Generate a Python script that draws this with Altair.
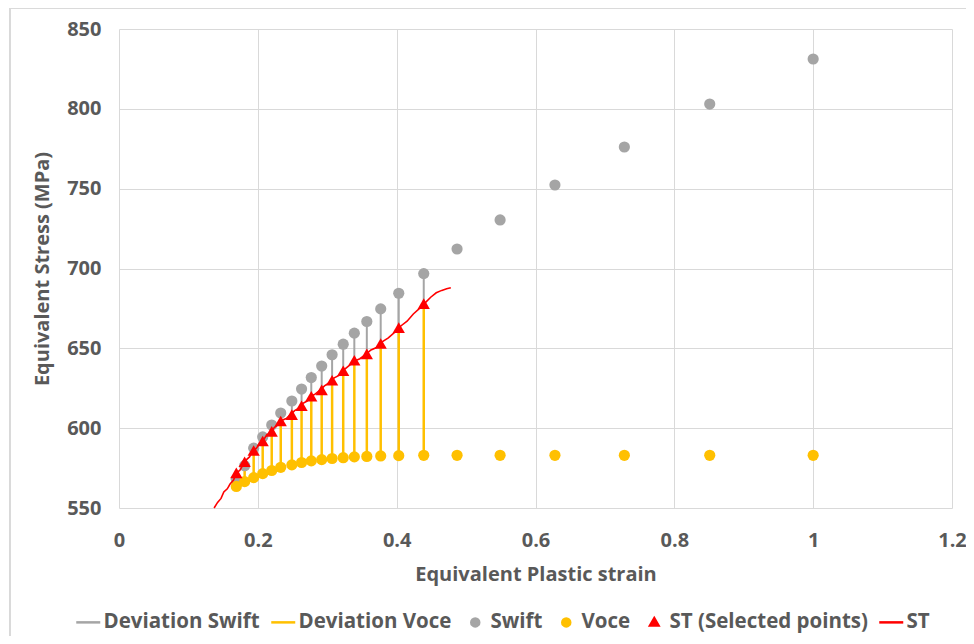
import altair as alt
import pandas as pd

# ---------------- data ----------------
strain = [0.169, 0.181, 0.194, 0.207, 0.220, 0.233, 0.249, 0.263, 0.277, 0.292,
          0.307, 0.323, 0.339, 0.357, 0.377, 0.403, 0.439, 0.487, 0.549, 0.628,
          0.728, 0.851, 1.0]
swift = [568.0, 576.5, 587.5, 594.5, 602.0, 609.5, 617.0, 624.5, 631.7, 638.9,
         646.0, 652.6, 659.5, 666.8, 674.7, 684.5, 696.8, 712.2, 730.4, 752.3,
         776.1, 803.0, 831.2]
voce = [563.5, 566.5, 569.0, 571.5, 573.5, 575.5, 577.0, 578.5, 579.5, 580.3,
        581.0, 581.5, 582.0, 582.3, 582.6, 582.8, 583.0, 583.0, 583.0, 583.0,
        583.0, 583.0, 583.0]
st_selected = [572.0, 579.0, 586.0, 592.0, 598.0, 604.5, 608.5, 614.0, 620.0, 624.0,
               630.0, 636.0, 642.5, 646.5, 653.0, 663.0, 678.0]

st_line_x = [0.137, 0.142, 0.147, 0.151, 0.156, 0.160, 0.165, 0.169, 0.174, 0.178,
             0.183, 0.188, 0.193, 0.198, 0.203, 0.208, 0.213, 0.218, 0.224, 0.229,
             0.235, 0.241, 0.247, 0.253, 0.259, 0.265, 0.271, 0.277, 0.283, 0.290,
             0.296, 0.303, 0.310, 0.317, 0.324, 0.331, 0.339, 0.347, 0.355, 0.363,
             0.371, 0.379, 0.388, 0.397, 0.406, 0.415, 0.424, 0.433, 0.441, 0.449,
             0.457, 0.465, 0.472, 0.478]
st_line_y = [550.0, 553.5, 556.0, 560.0, 562.0, 565.0, 567.5, 572.0, 573.5, 576.5,
             580.0, 582.0, 586.0, 587.5, 590.5, 592.5, 596.0, 597.0, 600.5, 602.0,
             605.0, 606.0, 608.5, 611.0, 612.5, 615.5, 617.0, 620.0, 621.5, 624.0,
             626.5, 628.5, 631.5, 633.0, 636.5, 639.0, 642.0, 643.5, 646.0, 649.0,
             650.5, 654.0, 656.5, 660.0, 664.0, 667.0, 671.5, 675.0, 678.5, 682.0,
             684.8, 686.3, 687.3, 688.0]

x_ticks = [0, 0.2, 0.4, 0.6, 0.8, 1, 1.2]
y_ticks = [550, 600, 650, 700, 750, 800, 850]

series_names = ["Deviation Swift", "Deviation Voce", "Swift", "Voce",
                "ST (Selected points)", "ST"]
series_colors = ["#A5A5A5", "#FFC000", "#A5A5A5", "#FFC000", "#FF0000", "#FF0000"]
# legend glyphs: all share the same horizontal extent so entries are spaced evenly
LINE_GLYPH = "M-3,0L3,0"
DOT_GLYPH = "M-3,0M3,0M-1,0A1,1 0 1,0 1,0A1,1 0 1,0 -1,0Z"
TRI_GLYPH = "M-3,0M3,0M0,-1.05L1.05,0.75L-1.05,0.75Z"
series_shapes = [LINE_GLYPH, LINE_GLYPH, DOT_GLYPH, DOT_GLYPH, TRI_GLYPH, LINE_GLYPH]

GRAY = "#A5A5A5"
YELLOW = "#FFC000"
RED = "#FF0000"
TEXT = "#595959"
FONT = "Open Sans"

n_sel = len(st_selected)
df_pts = pd.DataFrame({"strain": strain, "swift": swift, "voce": voce})
df_sel = pd.DataFrame({"strain": strain[:n_sel], "st": st_selected,
                       "swift": swift[:n_sel], "voce": voce[:n_sel]})
df_line = pd.DataFrame({"strain": st_line_x, "st": st_line_y})
df_leg = pd.DataFrame({"series": series_names,
                       "strain": [None] * len(series_names),
                       "st": [None] * len(series_names)})

xscale = alt.Scale(domain=[0, 1.2], nice=False)
yscale = alt.Scale(domain=[550, 850], nice=False, zero=False)
xaxis = alt.Axis(values=x_ticks, format="~g", title="Equivalent Plastic strain")
yaxis = alt.Axis(values=y_ticks, format="d", title="Equivalent Stress (MPa)")


def X():
    return alt.X("strain:Q", scale=xscale, axis=xaxis)


def Y(field):
    return alt.Y(f"{field}:Q", scale=yscale, axis=yaxis)


dev_swift = alt.Chart(df_sel).mark_rule(color=GRAY, strokeWidth=2).encode(
    x=X(), y=Y("swift"), y2="st:Q")
dev_voce = alt.Chart(df_sel).mark_rule(color=YELLOW, strokeWidth=2.5).encode(
    x=X(), y=Y("voce"), y2="st:Q")
swift_pts = alt.Chart(df_pts).mark_point(
    filled=True, shape="circle", size=125, color=GRAY, opacity=1).encode(x=X(), y=Y("swift"))
voce_pts = alt.Chart(df_pts).mark_point(
    filled=True, shape="circle", size=125, color=YELLOW, opacity=1).encode(x=X(), y=Y("voce"))
st_pts = alt.Chart(df_sel).mark_point(
    filled=True, shape="triangle-up", size=150, color=RED, opacity=1).encode(x=X(), y=Y("st"))
st_line = alt.Chart(df_line).mark_line(color=RED, strokeWidth=1.6).encode(
    x=X(), y=Y("st"), order="strain:Q")

leg = alt.Legend(title=None, orient="none", direction="horizontal",
                 legendX=-41, legendY=583, padding=0,
                 labelFont=FONT, labelFontSize=20.5, labelFontWeight="bold",
                 labelColor=TEXT, labelOffset=5, columnPadding=6,
                 symbolSize=64, symbolStrokeWidth=2.5, labelLimit=400)
legend_layer = alt.Chart(df_leg).mark_point(
    filled=True, opacity=1, size=64, strokeWidth=2.5).encode(
    x=X(), y=Y("st"),
    fill=alt.Fill("series:N", scale=alt.Scale(domain=series_names, range=series_colors), legend=leg),
    stroke=alt.Stroke("series:N", scale=alt.Scale(domain=series_names, range=series_colors), legend=leg),
    shape=alt.Shape("series:N", scale=alt.Scale(domain=series_names, range=series_shapes), legend=leg),
)

frame_top = alt.Chart(df_leg).mark_rule(color="#D9D9D9", strokeWidth=1).encode(
    x=alt.value(-109), x2=alt.value(847), y=alt.value(-21))
frame_left = alt.Chart(df_leg).mark_rule(color="#D9D9D9", strokeWidth=1).encode(
    x=alt.value(-109), y=alt.value(-21), y2=alt.value(607))

chart = alt.layer(
    frame_top, frame_left,
    dev_swift, dev_voce, swift_pts, voce_pts, st_pts, st_line, legend_layer
).properties(
    width=833, height=479,
    autosize=alt.AutoSizeParams(type="none"),
    padding={"left": 111, "top": 21, "right": 14, "bottom": 128},
).configure_view(stroke=None).configure_axis(
    domain=False, ticks=False, grid=True, gridColor="#D9D9D9", gridWidth=1,
    labelFont=FONT, labelFontSize=20, labelFontWeight="bold", labelColor=TEXT,
    titleFont=FONT, titleFontSize=20, titleFontWeight="bold", titleColor=TEXT,
    labelFlush=False,
).configure_axisX(labelPadding=22, titlePadding=14).configure_axisY(
    labelPadding=18, titlePadding=14)

chart.save("out.html", embed_options={"renderer": "svg", "actions": False})
